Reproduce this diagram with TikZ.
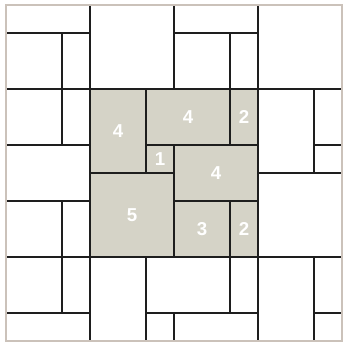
\documentclass[tikz,border=0pt]{standalone}
\usepackage{fontspec}
\setmainfont{Liberation Sans}
\definecolor{stone}{RGB}{213,211,199}
\definecolor{rim}{RGB}{203,194,186}
\definecolor{joint}{RGB}{30,30,30}

\begin{document}
\begin{tikzpicture}[
  x=1cm, y=-1cm,
  tile/.style={draw=joint, line width=1.1pt},
  paver/.style={tile, fill=stone},
  tilenum/.style={text=white, font=\fontsize{19}{19}\selectfont\bfseries}
]
\useasboundingbox (-0.214,-0.179) rectangle (12.071,12.179);

% white tiles
\foreach \xa/\ya/\xb/\yb in {
  0/0/3/1, 0/1/2/3, 2/1/3/3,
  0/3/2/5, 2/3/3/5, 0/5/3/7, 0/7/2/9, 2/7/3/9,
  0/9/2/11, 2/9/3/11, 0/11/3/12,
  3/0/6/3, 6/0/9/1, 6/1/8/3, 8/1/9/3,
  9/0/12/3,
  9/3/11/6, 11/3/12/5, 11/5/12/6, 9/6/12/9,
  9/9/11/12, 11/9/12/11, 11/11/12/12,
  3/9/5/12, 5/9/8/11, 8/9/9/11, 5/11/6/12, 6/11/9/12}
  \draw[tile] (\xa,\ya) rectangle (\xb,\yb);

% shaded tiles
\foreach \xa/\ya/\xb/\yb/\n [count=\i] in {
  3/3/5/6/4, 5/3/8/5/4, 8/3/9/5/2, 5/5/6/6/1,
  6/5/9/7/4, 3/6/6/9/5, 6/7/8/9/3, 8/7/9/9/2}{
  \draw[paver] (\xa,\ya) rectangle (\xb,\yb);
  \node[tilenum] (p\i) at ({(\xa+\xb)/2},{(\ya+\yb)/2}) {\n};
}

% border
\draw[rim, line width=1.5pt] (0,0) rectangle (12,12);
\end{tikzpicture}
\end{document}
